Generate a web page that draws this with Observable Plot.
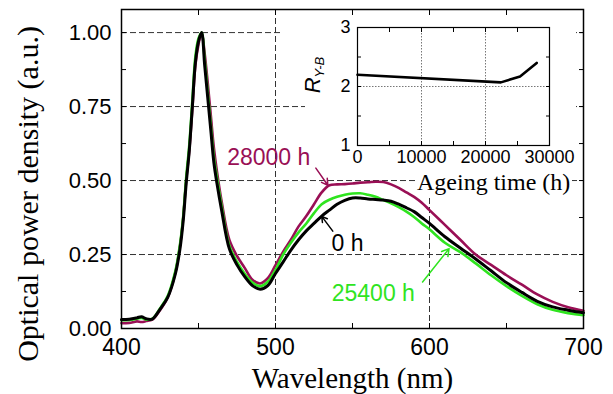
<!DOCTYPE html>
<html><head><meta charset="utf-8">
<script src="https://cdn.jsdelivr.net/npm/d3@7"></script>
<script src="https://cdn.jsdelivr.net/npm/@observablehq/plot@0.6"></script>
<style>
body{margin:0;background:#fff;}
#wrap{position:relative;width:613px;height:394px;overflow:hidden;background:#fff;}
#wrap svg{position:absolute;}
.mask{position:absolute;background:#fff;}
#ageLabel{position:absolute;left:417px;top:168px;font-family:"Liberation Serif";font-size:24px;line-height:28px;background:#fff;padding-right:2px;white-space:nowrap;color:#000;}
#rLabel{position:absolute;left:316px;top:75px;transform:translate(-50%,-50%) rotate(-90deg);font-family:"Liberation Sans";font-style:italic;font-size:22px;white-space:nowrap;line-height:22px;color:#000;}
#rLabel sub{font-size:13px;vertical-align:-4px;}
</style></head>
<body>
<div id="wrap"></div>
<script>
// ---- main spectra ----
const wavelength = [400,405,410,413,416,420,425,430,435,438,440,442,444,446,448,450,452,454,456,458,460,462,465,470,475,480,485,490,495,500,505,510,515,520,525,530,535,540,545,550,555,560,565,570,575,580,585,590,595,600,610,620,630,640,650,660,670,680,690,700];
const power0h = [0.030,0.031,0.036,0.040,0.033,0.032,0.065,0.105,0.185,0.27,0.36,0.49,0.60,0.75,0.90,0.97,1.00,0.89,0.78,0.67,0.56,0.49,0.40,0.27,0.215,0.175,0.145,0.133,0.145,0.186,0.225,0.265,0.30,0.33,0.355,0.38,0.40,0.42,0.433,0.441,0.441,0.438,0.436,0.434,0.43,0.42,0.408,0.395,0.375,0.355,0.31,0.272,0.235,0.195,0.155,0.122,0.092,0.073,0.062,0.053];
const power25400h = [0.028,0.029,0.033,0.036,0.030,0.033,0.068,0.11,0.195,0.285,0.375,0.51,0.62,0.77,0.92,0.98,1.00,0.91,0.80,0.69,0.58,0.51,0.415,0.28,0.225,0.185,0.155,0.143,0.158,0.198,0.25,0.29,0.325,0.355,0.39,0.42,0.435,0.445,0.452,0.456,0.457,0.452,0.445,0.434,0.423,0.41,0.395,0.377,0.355,0.335,0.29,0.258,0.22,0.18,0.143,0.11,0.082,0.063,0.052,0.045];
const power28000h = [0.018,0.019,0.024,0.022,0.025,0.030,0.062,0.105,0.19,0.28,0.37,0.50,0.60,0.74,0.89,0.96,1.00,0.93,0.83,0.72,0.61,0.53,0.43,0.30,0.245,0.205,0.165,0.152,0.17,0.214,0.26,0.30,0.345,0.38,0.42,0.46,0.484,0.487,0.488,0.49,0.493,0.494,0.496,0.495,0.487,0.475,0.46,0.445,0.425,0.40,0.35,0.30,0.25,0.215,0.18,0.148,0.115,0.09,0.072,0.06];

const xTickLabels = [400,500,600,700];
const xTickMarks = [450,500,550,600,650];
const xGrid = [500,600];
const yTickLabels = [0,0.25,0.5,0.75,1.0];
const yTickMarks = [0.125,0.25,0.375,0.5,0.625,0.75,0.875,1.0];
const yGrid = [0.25,0.5,0.75,1.0];

// annotations
const annLabels = ["28000 h","0 h","25400 h"];
const annColors = ["#990f55","#000000","#2fe41f"];
const annX = [495.6,546.8,563.5];
const annY = [0.577,0.286,0.119];
const arrowX1 = [526.2,537.2,595.5];
const arrowY1 = [0.542,0.329,0.157];
const arrowX2 = [534.0,530.0,612.7];
const arrowY2 = [0.484,0.379,0.270];

// ---- inset ----
const ageingTime = [0,22400,25400,28000];
const ratioYB = [2.20,2.07,2.17,2.40];
const insetXLabels = [0,10000,20000,30000];
const insetXTicks = [5000,10000,15000,20000,25000];
const insetYLabels = [1,2,3];
const insetYTicks = [1.5,2,2.5];

const colors = {"0 h":"#000000","25400 h":"#2fe41f","28000 h":"#990f55"};
const series = [
  {name:"28000 h", vals:power28000h, w:2.6},
  {name:"25400 h", vals:power25400h, w:2.6},
  {name:"0 h", vals:power0h, w:3}
];
const seriesMarks = series.map(s => Plot.line(wavelength.map((w,i)=>({w, v:s.vals[i]})), {x:"w", y:"v", stroke: colors[s.name], strokeWidth:s.w, curve:"catmull-rom"}));

const ann = annLabels.map((t,i)=>({t, c:annColors[i], x:annX[i], y:annY[i], x1:arrowX1[i], y1:arrowY1[i], x2:arrowX2[i], y2:arrowY2[i]}));

const main = Plot.plot({
  width:613, height:394,
  marginLeft:121, marginRight:30, marginTop:9, marginBottom:66,
  x:{domain:[400,700]},
  y:{domain:[0,1.078]},
  style:{fontFamily:"Liberation Sans", background:"transparent", overflow:"visible", color:"#000"},
  marks:[
    Plot.gridY(yGrid, {stroke:"#333", strokeOpacity:1, strokeWidth:1, strokeDasharray:"6,3"}),
    Plot.gridX(xGrid, {stroke:"#333", strokeOpacity:1, strokeWidth:1, strokeDasharray:"6,3"}),
    Plot.axisX(xTickMarks, {anchor:"bottom", tickSize:-5, fill:"none", label:null}),
    Plot.axisX(xTickMarks, {anchor:"top", tickSize:-5, fill:"none", label:null}),
    Plot.axisY(yTickMarks, {anchor:"left", tickSize:-5, fill:"none", label:null}),
    Plot.axisY(yTickMarks, {anchor:"right", tickSize:-5, fill:"none", label:null}),
    Plot.axisX(xTickLabels, {anchor:"bottom", tickSize:0, tickPadding:10, fontSize:23, label:null, tickFormat:d3.format("d")}),
    Plot.axisY(yTickLabels, {anchor:"left", tickSize:0, tickPadding:10, fontSize:22, label:null, tickFormat:d3.format(".2f")}),
    Plot.text(["Wavelength (nm)"], {frameAnchor:"bottom", lineAnchor:"bottom", textAnchor:"middle", dy:59, fontFamily:"Liberation Serif", fontSize:29, fill:"#000"}),
    Plot.text(["Optical power density (a.u.)"], {frameAnchor:"left", lineAnchor:"bottom", textAnchor:"middle", rotate:-90, dx:-84, dy:25, fontFamily:"Liberation Serif", fontSize:30, fill:"#000"}),
    ...seriesMarks,
    Plot.arrow(ann, {x1:"x1", y1:"y1", x2:"x2", y2:"y2", stroke:"c", strokeWidth:1.5, headLength:8}),
    Plot.text(ann, {x:"x", y:"y", text:"t", fill:"c", fontSize:23}),
    Plot.frame({stroke:"#000", strokeWidth:1.5})
  ]
});

const inset = Plot.plot({
  width:282, height:170,
  marginLeft:57, marginRight:33, marginTop:18, marginBottom:34,
  x:{domain:[0,30000]},
  y:{domain:[1,3]},
  style:{fontFamily:"Liberation Sans", background:"transparent", overflow:"visible", color:"#000"},
  marks:[
    Plot.gridX([10000,20000], {stroke:"#777", strokeOpacity:1, strokeWidth:1, strokeDasharray:"1.5,1.5"}),
    Plot.gridY([2], {stroke:"#777", strokeOpacity:1, strokeWidth:1, strokeDasharray:"1.5,1.5"}),
    Plot.axisX(insetXTicks, {anchor:"bottom", tickSize:-4, fill:"none", label:null}),
    Plot.axisX(insetXTicks, {anchor:"top", tickSize:-4, fill:"none", label:null}),
    Plot.axisY(insetYTicks, {anchor:"left", tickSize:-4, fill:"none", label:null}),
    Plot.axisY(insetYTicks, {anchor:"right", tickSize:-4, fill:"none", label:null}),
    Plot.axisX(insetXLabels, {anchor:"bottom", tickSize:0, tickPadding:5, fontSize:18, label:null, tickFormat:d3.format("d")}),
    Plot.axisY(insetYLabels, {anchor:"left", tickSize:0, tickPadding:7, fontSize:18, label:null, tickFormat:d3.format("d")}),
    Plot.line(ageingTime.map((t,i)=>({t, r:ratioYB[i]})), {x:"t", y:"r", stroke:"#000", strokeWidth:2.6}),
    Plot.frame({stroke:"#000", strokeWidth:1.2})
  ]
});

const wrap = document.getElementById("wrap");
main.style.left = "0px"; main.style.top = "0px";
wrap.appendChild(main);
function mask(l,t,w,h){const d=document.createElement("div");d.className="mask";Object.assign(d.style,{left:l+"px",top:t+"px",width:w+"px",height:h+"px"});wrap.appendChild(d);}
mask(283,15,293,80);
mask(305,95,271,45);
mask(385,140,191,32);
inset.style.left = "300px"; inset.style.top = "9px";
wrap.appendChild(inset);
const age = document.createElement("div"); age.id="ageLabel"; age.textContent="Ageing time (h)"; wrap.appendChild(age);
const r = document.createElement("div"); r.id="rLabel"; r.innerHTML="R<sub>Y-B</sub>"; wrap.appendChild(r);
</script>
</body></html>
